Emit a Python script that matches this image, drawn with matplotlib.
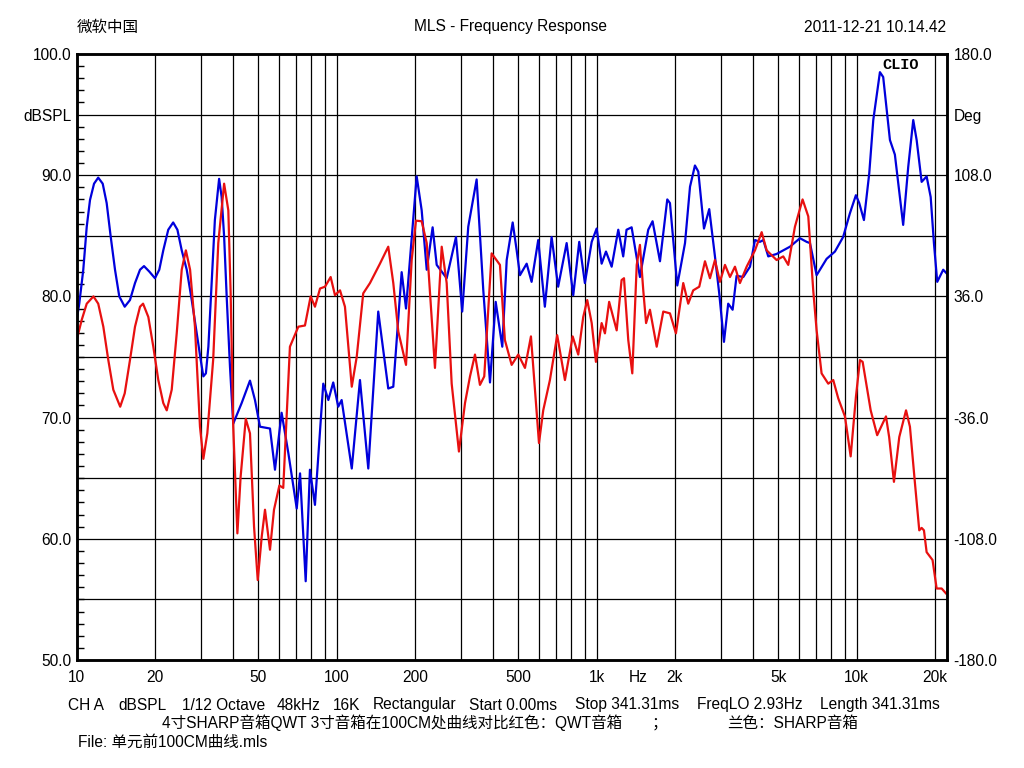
import matplotlib
matplotlib.use('Agg')
import matplotlib.pyplot as plt
from matplotlib.ticker import FixedLocator

plt.rcParams['font.family'] = ['Liberation Sans', 'Noto Sans CJK SC', 'DejaVu Sans']

# ---- data (Hz, dBSPL) ----
blue_freq = [10, 10.23, 10.6, 10.93, 11.25, 11.66, 12.1, 12.59, 13.04, 13.51, 14.04, 14.58, 15.3,
             16.03, 16.76, 17.52, 18.15, 19.02, 20.0, 20.78, 21.53, 22.5, 23.5, 24.4, 25.35, 26.5,
             27.7, 28.94, 30.0, 30.7, 31.4, 32.1, 33.0, 34.0, 35.3, 36.1, 36.9, 37.8, 38.87, 40.0,
             43.1, 46.4, 48.5, 50.7, 55.4, 57.9, 61.4, 65.2, 70.2, 72.3, 76.0, 78.9, 82.5, 88.8,
             92.9, 97.0, 101.4, 104.5, 114.3, 122.9, 132.3, 144.5, 157.9, 165.1, 177.8, 184.8,
             203.1, 212.3, 222, 233.9, 242.5, 264.9, 287.7, 304, 320.7, 345.4, 366.4, 388.8, 408.9,
             433.5, 450.8, 475.3, 492.4, 507, 538, 562, 596, 632, 671, 711, 766.6, 812.8, 857, 901,
             957, 1000, 1045, 1086, 1142, 1211, 1265, 1303, 1363, 1467, 1579, 1641, 1752, 1869,
             1914, 2042, 2187, 2286, 2388, 2460, 2587, 2710, 2851, 2961, 3088, 3206, 3334, 3453,
             3664, 3888, 4064, 4248, 4375, 4571, 4922, 5540, 6053, 6424, 6613, 7015, 7666, 8251,
             8872, 9419, 9935, 10233, 10667, 11181, 11587, 12290, 12651, 13430, 14030, 15100,
             15794, 16509, 17014, 17783, 18586, 19265, 19828, 20417, 21528, 22182]
blue_db = [78.05, 79.4, 82.2, 85.75, 87.95, 89.3, 89.8, 89.3, 87.7, 84.95, 82.2, 80.0, 79.15,
           79.7, 81.1, 82.2, 82.5, 82.05, 81.5, 82.2, 83.8, 85.5, 86.1, 85.5, 83.8, 82.2,
           79.7, 76.95, 74.75, 73.4, 73.65, 75.85, 80.8, 86.3, 89.7, 88.2, 84.95, 79.7, 74.2, 69.5,
           71.2, 73.05, 71.45, 69.25, 69.1, 65.7, 70.4, 67.05, 62.5, 65.4, 56.5, 65.7, 62.8, 72.8,
           71.45, 72.9, 70.9, 71.45, 65.8, 73.1, 65.8, 78.75, 72.4, 72.55, 82.0, 79.0,
           89.9, 87.1, 82.2, 85.7, 82.6, 81.5, 84.9, 78.75, 85.75, 89.65, 80.5, 72.9, 79.55,
           75.85, 83.0, 86.1, 83.8, 81.75, 82.7, 81.2, 84.65, 79.15, 84.9, 80.8, 84.4, 80.1, 84.5, 81.1,
           84.5, 85.6, 82.7, 83.7, 82.45, 85.5, 83.3, 85.5, 85.7, 81.6, 85.5, 86.2, 82.9, 88.0,
           87.7, 80.9, 84.4, 89.05, 90.8, 90.3, 85.6, 87.2, 83.3, 80.25, 76.25, 79.4, 78.9, 81.7,
           81.6, 82.45, 84.65, 84.5, 84.65, 83.3, 83.5, 84.1, 84.8, 84.5, 84.4, 81.75, 83.1, 83.7,
           84.9, 86.85, 88.35, 87.7, 86.3, 90.15, 94.55, 98.5, 98.1, 92.9, 91.7, 85.9,
           90.7, 94.55, 92.9, 89.45, 89.9, 88.2, 84.4, 81.2, 82.2, 81.9]

red_freq = [10, 10.45, 10.93, 11.6, 12.1, 12.66, 13.23, 13.83, 14.7, 15.3, 16.03, 16.76, 17.52,
            18.0, 18.86, 19.71, 20.6, 21.53, 22.2, 23.2, 24.25, 25.35, 26.3, 27.3, 28.5, 29.8,
            30.7, 31.8, 33.5, 35.04, 36.9, 38.3, 39.1, 40.0, 41.5, 42.7, 44.7, 46.4, 48.1, 49.7,
            51.5, 53.0, 55.4, 57.4, 60.2, 62.3, 66.1, 71.2, 75.5, 79.4, 82.5, 86.3, 90.2, 94.8,
            98.5, 103, 107.6, 114.3, 119.4, 126.5, 134.3, 146.7, 157.9, 165.1, 172.6, 184.8,
            194.3, 201.8, 212.3, 222, 238.8, 253.5, 264.9, 276.9, 295.3, 311.6, 325.7, 340.4,
            355.7, 369.5, 394.5, 424.6, 443.6, 471, 499.4, 530, 558.8, 600, 623, 661, 705, 755,
            808.5, 849.5, 887.8, 920, 957, 993.6, 1045, 1076, 1117, 1194, 1247, 1274, 1323, 1371,
            1426, 1467, 1511, 1549, 1603, 1702, 1804, 1914, 2018, 2153, 2250, 2352, 2481, 2610,
            2728, 2851, 2979, 3116, 3257, 3404, 3557, 3775, 4064, 4312, 4508, 4922, 5221, 5457,
            5790, 6195, 6516, 6808, 7015, 7331, 7776, 8128, 8493, 9015, 9484, 9935, 10297, 10546,
            10990, 11324, 11995, 12966, 13335, 13915, 14588, 15488, 16032, 16758, 17412, 17783,
            18150, 18586, 19588, 20310, 21233, 22057]
red_db = [76.4, 78.05, 79.4, 80.0, 79.4, 77.5, 74.75, 72.3, 70.9, 72.0, 74.75, 77.5, 79.15,
          79.4, 78.3, 75.85, 73.1, 71.2, 70.6, 72.3, 76.95, 82.2, 83.8, 82.2, 77.5, 69.25,
          66.6, 68.7, 74.8, 84.4, 89.3, 87.1, 80.25, 69.25, 60.45, 65.1, 69.9, 68.7, 61.0, 56.6,
          60.2, 62.4, 59.1, 62.4, 64.4, 64.2, 75.85, 77.5, 77.6, 80.0, 79.15, 80.65, 80.8, 81.6,
          80.1, 80.5, 79.15, 72.55, 75.0, 80.25, 81.1, 82.7, 84.1, 81.1, 77.1, 74.35,
          83.0, 86.25, 86.2, 84.4, 74.1, 84.1, 81.1, 72.8, 67.2, 71.2, 73.4, 75.2,
          72.7, 73.4, 83.55, 82.6, 76.4, 74.35, 75.2, 74.1, 76.7, 67.9, 70.6, 73.1, 76.8, 73.1,
          76.7, 75.2, 78.3, 79.7, 77.8, 74.6, 77.8, 76.95, 79.55, 77.2, 81.35, 81.5, 76.4, 73.65,
          82.6, 84.25, 80.5, 77.8, 78.9, 75.85, 78.75, 78.6, 76.95, 81.1, 79.4, 80.5, 80.8, 82.9,
          81.5, 83.0, 81.2, 82.6, 81.6, 82.45, 81.1, 82.45, 83.8, 85.3, 83.8, 83.0, 83.3, 82.6,
          85.75, 88.0, 86.6, 80.5, 77.2, 73.65, 72.8, 73.1, 71.6, 70.1, 66.8, 71.7, 74.75, 74.6,
          72.3, 70.6, 68.55, 70.1, 68.4, 64.7, 68.4, 70.6, 69.25, 64.6, 60.7, 60.9,
          60.7, 58.9, 58.25, 55.9, 55.9, 55.5]

x_ticks = [10, 20, 50, 100, 200, 500, 1000, 1440, 2000, 5000, 10000, 20000]
x_labels = ['10', '20', '50', '100', '200', '500', '1k', 'Hz', '2k', '5k', '10k', '20k']
grid_freqs = [20, 30, 40, 50, 60, 70, 80, 90, 100, 200, 300, 400, 500, 600, 700, 800, 900,
              1000, 2000, 3000, 4000, 5000, 6000, 7000, 8000, 9000, 10000, 20000]
grid_db = [55, 60, 65, 70, 75, 80, 85, 90, 95]
left_ticks = [50, 60, 70, 80, 90, 95, 100]
left_labels = ['50.0', '60.0', '70.0', '80.0', '90.0', 'dBSPL', '100.0']
right_ticks = [-180, -108, -36, 36, 108, 144, 180]
right_labels = ['-180.0', '-108.0', '-36.0', '36.0', '108.0', 'Deg', '180.0']

FS = 11.2

fig = plt.figure(figsize=(10.24, 7.68), dpi=100)
ax = fig.add_axes([0.0749, 0.1406, 0.8496, 0.7891])
ax.set_xscale('log')
ax.set_xlim(10, 22200)
ax.set_ylim(50, 100)

for f in grid_freqs:
    ax.axvline(f, color='black', lw=0.9, zorder=1)
for d in grid_db:
    ax.axhline(d, color='black', lw=0.9, zorder=1)

ax.plot(blue_freq, blue_db, color='#0000DC', lw=1.6, zorder=3)
ax.plot(red_freq, red_db, color='#E81010', lw=1.6, zorder=3)

ax.xaxis.set_major_locator(FixedLocator(x_ticks))
ax.set_xticklabels(x_labels)
ax.xaxis.set_minor_locator(FixedLocator([]))
ax.tick_params(axis='x', which='major', length=0, pad=7, labelsize=FS)

ax.yaxis.set_major_locator(FixedLocator(left_ticks))
ax.set_yticklabels(left_labels)
ax.yaxis.set_minor_locator(FixedLocator(list(range(50, 101))))
ax.tick_params(axis='y', which='major', length=0, pad=4, labelsize=FS)
ax.tick_params(axis='y', which='minor', direction='in', length=5, width=1,
               left=True, right=True)

ax2 = ax.twinx()
ax2.set_ylim(-180, 180)
ax2.yaxis.set_major_locator(FixedLocator(right_ticks))
ax2.set_yticklabels(right_labels)
ax2.tick_params(axis='y', which='major', length=0, pad=5, labelsize=FS)

for a in (ax, ax2):
    for s in a.spines.values():
        s.set_linewidth(1.8)
        s.set_color('black')
        s.set_zorder(5)

fig.text(901 / 1024, 1 - 65 / 768, 'CLIO', family='Liberation Mono', weight='bold',
         fontsize=11, ha='center', va='center')

fig.text(77 / 1024, 1 - 27 / 768, '微软中国', fontsize=FS, va='center', ha='left',
         family=['Noto Sans CJK SC', 'DejaVu Sans'])
fig.text(511 / 1024, 1 - 27 / 768, 'MLS - Frequency Response', fontsize=FS,
         va='center', ha='center')
fig.text(946 / 1024, 1 - 27 / 768, '2011-12-21 10.14.42', fontsize=FS, va='center', ha='right')

footer_items = ['CH A', 'dBSPL', '1/12 Octave', '48kHz', '16K', 'Rectangular', 'Start 0.00ms',
                'Stop 341.31ms', 'FreqLO 2.93Hz', 'Length 341.31ms']
footer_x = [68, 118, 182, 277, 333, 373, 469, 575, 697, 820]
for t, xp in zip(footer_items, footer_x):
    fig.text(xp / 1024, 1 - 705 / 768, t, fontsize=FS, va='center', ha='left')

fig.text(162 / 1024, 1 - 723 / 768, '4寸SHARP音箱QWT 3寸音箱在100CM处曲线对比红色：QWT音箱',
         fontsize=FS, va='center', ha='left')
fig.text(652 / 1024, 1 - 723 / 768, '；', fontsize=FS, va='center', ha='left')
fig.text(727 / 1024, 1 - 723 / 768, '兰色：SHARP音箱', fontsize=FS, va='center', ha='left')
fig.text(78 / 1024, 1 - 742 / 768, 'File: 单元前100CM曲线.mls', fontsize=FS, va='center', ha='left')

fig.savefig('out.png', dpi=100, facecolor='white')
